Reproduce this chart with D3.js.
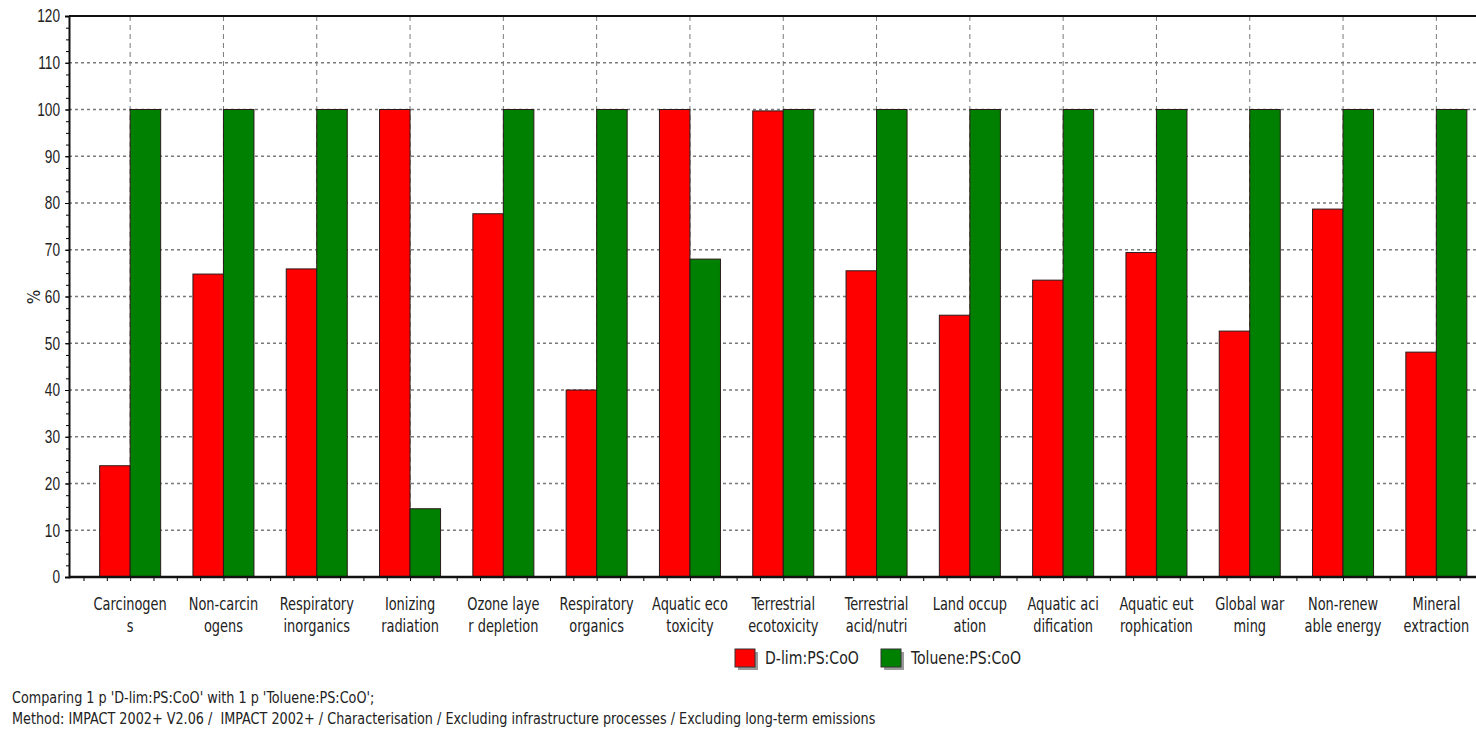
<!DOCTYPE html>
<html>
<head>
<meta charset="utf-8">
<script src="https://cdn.jsdelivr.net/npm/d3@7"></script>
<style>
  body { margin: 0; background: white; }
  svg { display: block; font-family: "DejaVu Sans Condensed", "DejaVu Sans", sans-serif; }
</style>
</head>
<body>
<div id="chart"></div>
<script>
// categories, as the chart wraps them (two lines each)
const categories = [
  ["Carcinogen", "s"],
  ["Non-carcin", "ogens"],
  ["Respiratory", "inorganics"],
  ["Ionizing", "radiation"],
  ["Ozone laye", "r depletion"],
  ["Respiratory", "organics"],
  ["Aquatic eco", "toxicity"],
  ["Terrestrial", "ecotoxicity"],
  ["Terrestrial", "acid/nutri"],
  ["Land occup", "ation"],
  ["Aquatic aci", "dification"],
  ["Aquatic eut", "rophication"],
  ["Global war", "ming"],
  ["Non-renew", "able energy"],
  ["Mineral", "extraction"]
];

const series_names = ["D-lim:PS:CoO", "Toluene:PS:CoO"];
const series_colors = ["#ff0000", "#008000"];

const dlim_values    = [23.8, 64.8, 65.9, 100, 77.7, 40.0, 100, 99.7, 65.5, 56.0, 63.5, 69.4, 52.6, 78.7, 48.1];
const toluene_values = [100, 100, 100, 14.6, 100, 100, 68.0, 100, 100, 100, 100, 100, 100, 100, 100];

const y_ticks = d3.range(0, 121, 10);

const footer_lines = [
  "Comparing 1 p 'D-lim:PS:CoO' with 1 p 'Toluene:PS:CoO';",
  "Method: IMPACT 2002+ V2.06 /  IMPACT 2002+ / Characterisation / Excluding infrastructure processes / Excluding long-term emissions"
];

const width = 1476, height = 740;
const plot = { left: 69, top: 16, bottom: 577, right: 1476 };
const band_start = 83.5, band_w = 93.3;
const bar_w = 30.5;

const svg = d3.select("#chart").append("svg")
  .attr("width", width)
  .attr("height", height);

svg.append("rect").attr("width", width).attr("height", height).attr("fill", "white");

const keys = categories.map((d, i) => "c" + i);
const x = d3.scaleBand()
  .domain(keys)
  .range([band_start, band_start + band_w * keys.length])
  .padding(0);
const xs = d3.scaleBand()
  .domain(series_names)
  .range([x.bandwidth() / 2 - bar_w, x.bandwidth() / 2 + bar_w])
  .padding(0);
const xlin = d3.scaleLinear().domain([0, keys.length]).range(x.range());

const y = d3.scaleLinear().domain([0, 120]).range([plot.bottom, plot.top]);

// horizontal grid
svg.append("g")
  .selectAll("line")
  .data(y_ticks.filter(d => d > 0 && d < 120))
  .enter()
  .append("line")
  .attr("x1", plot.left).attr("x2", plot.right)
  .attr("y1", d => y(d)).attr("y2", d => y(d))
  .attr("stroke", "#7a7a7a")
  .attr("stroke-width", 1.3)
  .attr("stroke-dasharray", "3,3");

// vertical grid at category centres
svg.append("g")
  .selectAll("line")
  .data(keys)
  .enter()
  .append("line")
  .attr("x1", d => x(d) + x.bandwidth() / 2).attr("x2", d => x(d) + x.bandwidth() / 2)
  .attr("y1", plot.top).attr("y2", plot.bottom)
  .attr("stroke", "#7a7a7a")
  .attr("stroke-width", 1)
  .attr("stroke-dasharray", "5,4");

// bars
const table = keys.map((k, i) => ({ key: k, values: [dlim_values[i], toluene_values[i]] }));

svg.append("g")
  .selectAll("g")
  .data(table)
  .enter()
  .append("g")
  .attr("transform", d => "translate(" + x(d.key) + ",0)")
  .selectAll("rect")
  .data(d => d.values.map((v, j) => ({ name: series_names[j], value: v, color: series_colors[j] })))
  .enter()
  .append("rect")
  .attr("x", d => xs(d.name))
  .attr("width", xs.bandwidth())
  .attr("y", d => y(d.value))
  .attr("height", d => y(0) - y(d.value))
  .attr("fill", d => d.color)
  .attr("stroke", "#2a1a1a")
  .attr("stroke-width", 1);

// top border
svg.append("line")
  .attr("x1", plot.left).attr("x2", plot.right)
  .attr("y1", plot.top).attr("y2", plot.top)
  .attr("stroke", "#111").attr("stroke-width", 2);

// y axis
const ysx = 0.76;
const yAxis = svg.append("g")
  .attr("transform", "translate(" + plot.left + ",0)")
  .call(d3.axisLeft(y).tickValues(y_ticks).tickSize(4).tickPadding(5));
yAxis.select(".domain").attr("stroke", "#111").attr("stroke-width", 2);
yAxis.selectAll("text")
  .attr("font-size", 18)
  .attr("fill", "#222")
  .attr("font-family", null)
  .attr("x", -9 / ysx)
  .attr("transform", "scale(" + ysx + ",1)");
yAxis.append("g")
  .call(d3.axisLeft(y).tickValues(d3.range(0, 120.1, 2.5)).tickSize(3).tickFormat(""))
  .select(".domain").remove();

// x axis
const xAxis = svg.append("g")
  .attr("transform", "translate(0," + plot.bottom + ")");
xAxis.append("g")
  .call(d3.axisBottom(xlin).tickValues(d3.range(0, keys.length + 0.01, 0.25)).tickSize(4).tickFormat(""))
  .select(".domain").remove();
xAxis.append("line")
  .attr("x1", plot.left).attr("x2", plot.right)
  .attr("stroke", "#111").attr("stroke-width", 2.5);

const xlabels = svg.append("g")
  .selectAll("text")
  .data(categories)
  .enter()
  .append("text")
  .attr("text-anchor", "middle")
  .attr("font-size", 18)
  .attr("fill", "#222")
  .attr("transform", (d, i) => "translate(" + (x(keys[i]) + x.bandwidth() / 2) + ",610) scale(0.8,1)");
xlabels.append("tspan").attr("x", 0).attr("y", 0).text(d => d[0]);
xlabels.append("tspan").attr("x", 0).attr("y", 22).text(d => d[1]);

// y axis title
svg.append("text")
  .attr("transform", "translate(40,297) rotate(-90)")
  .attr("text-anchor", "middle")
  .attr("font-size", 17)
  .attr("fill", "#222")
  .text("%");

// legend
const legend_x = [735, 881];
const legend = svg.append("g")
  .selectAll("g")
  .data(series_names)
  .enter()
  .append("g")
  .attr("transform", (d, i) => "translate(" + legend_x[i] + ",649)");
legend.append("rect")
  .attr("x", 3).attr("y", 3).attr("width", 20).attr("height", 18)
  .attr("fill", "#9a9a9a");
legend.append("rect")
  .attr("width", 20).attr("height", 18)
  .attr("fill", (d, i) => series_colors[i])
  .attr("stroke", "#333").attr("stroke-width", 1);
legend.append("text")
  .attr("transform", "translate(30,15) scale(0.92,1)")
  .attr("font-size", 17)
  .attr("fill", "#222")
  .text(d => d);

// footer
svg.append("g")
  .selectAll("text")
  .data(footer_lines)
  .enter()
  .append("text")
  .attr("transform", (d, i) => "translate(12," + (703 + i * 21) + ") scale(0.95,1)")
  .attr("font-size", 15)
  .attr("fill", "#222")
  .style("white-space", "pre")
  .text(d => d);
</script>
</body>
</html>
